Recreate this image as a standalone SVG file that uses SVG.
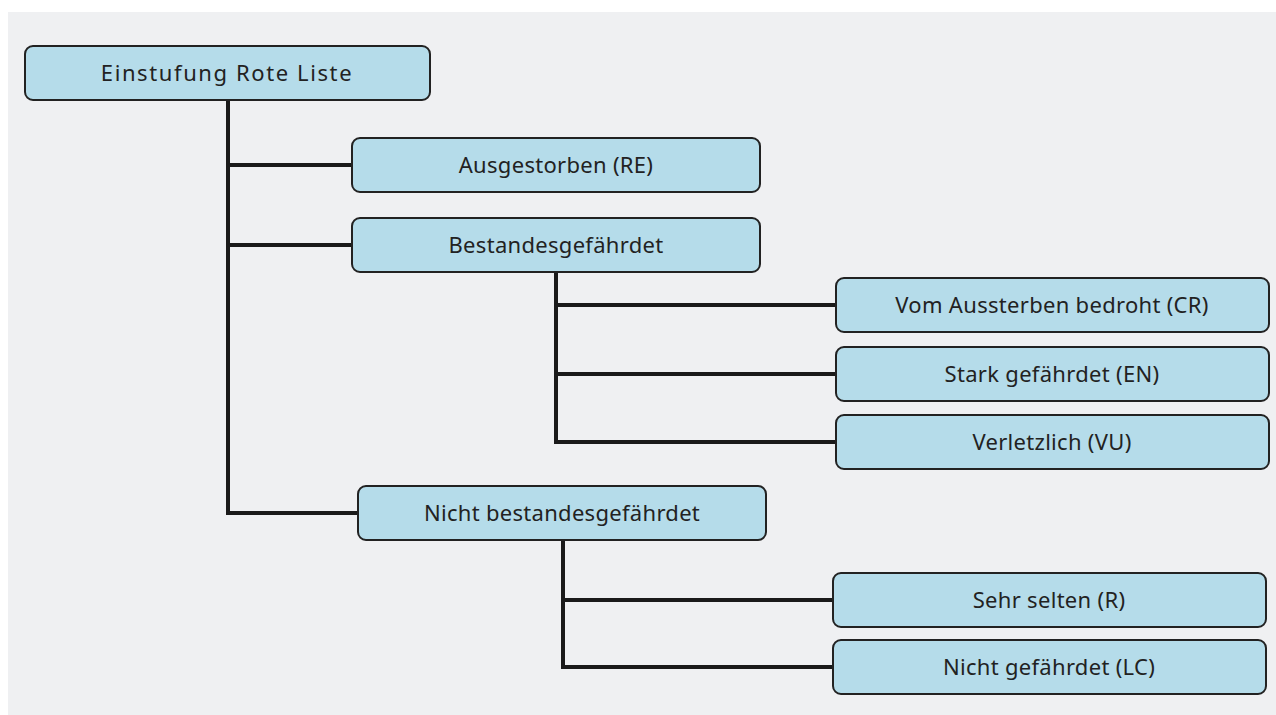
<svg xmlns="http://www.w3.org/2000/svg" width="1276" height="715" viewBox="0 0 1276 715">
<style>
.bg{fill:#eff0f2}
.node rect{fill:#b5dcea;stroke:#222;stroke-width:2}
.node text{font-family:"Noto Sans","Open Sans",sans-serif;font-size:22px;fill:#222;text-anchor:middle;dominant-baseline:central;letter-spacing:0.3px}
.conn path{fill:none;stroke:#1a1a1a;stroke-width:4;stroke-linejoin:miter}
</style>
<rect width="1276" height="715" fill="#ffffff"/>
<rect class="bg" x="8" y="12" width="1268" height="703"/>
<g class="conn">
<path d="M228 100 V513 H358"/>
<path d="M228 165 H352"/>
<path d="M228 245 H352"/>
<path d="M556 272 V442 H836"/>
<path d="M556 305 H836"/>
<path d="M556 374 H836"/>
<path d="M563 540 V667 H833"/>
<path d="M563 600 H833"/>
</g>
<g id="root" class="node"><rect x="25" y="46" width="405" height="54" rx="8"/><text x="227" y="72" style="letter-spacing:1.6px">Einstufung Rote Liste</text></g>
<g id="re" class="node"><rect x="352" y="138" width="408" height="54" rx="8"/><text x="556" y="164">Ausgestorben (RE)</text></g>
<g id="bg" class="node"><rect x="352" y="218" width="408" height="54" rx="8"/><text x="556" y="244">Bestandesgefährdet</text></g>
<g id="cr" class="node"><rect x="836" y="278" width="433" height="54" rx="8"/><text x="1052" y="304">Vom Aussterben bedroht (CR)</text></g>
<g id="en" class="node"><rect x="836" y="347" width="433" height="54" rx="8"/><text x="1052" y="373">Stark gefährdet (EN)</text></g>
<g id="vu" class="node"><rect x="836" y="415" width="433" height="54" rx="8"/><text x="1052" y="441">Verletzlich (VU)</text></g>
<g id="nbg" class="node"><rect x="358" y="486" width="408" height="54" rx="8"/><text x="562" y="512">Nicht bestandesgefährdet</text></g>
<g id="r" class="node"><rect x="833" y="573" width="433" height="54" rx="8"/><text x="1049" y="599">Sehr selten (R)</text></g>
<g id="lc" class="node"><rect x="833" y="640" width="433" height="54" rx="8"/><text x="1049" y="666">Nicht gefährdet (LC)</text></g>
</svg>
